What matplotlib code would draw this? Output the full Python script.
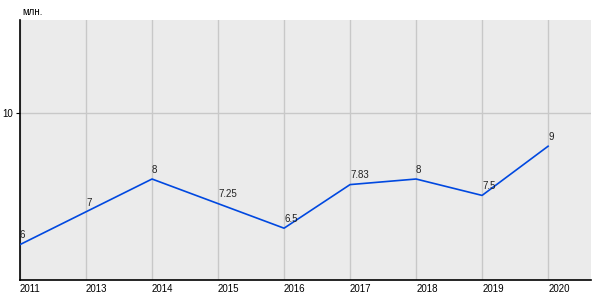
import matplotlib
matplotlib.use("Agg")
import matplotlib.pyplot as plt

years = ["2011", "2013", "2014", "2015", "2016", "2017", "2018", "2019", "2020"]
values = [6, 7, 8, 7.25, 6.5, 7.83, 8, 7.5, 9]
value_labels = ["6", "7", "8", "7.25", "6.5", "7.83", "8", "7.5", "9"]
y_ticks = [10]

plt.rcParams["font.family"] = ["Liberation Sans", "DejaVu Sans"]

fig = plt.figure(figsize=(6, 3), dpi=100)
ax = fig.add_axes([20 / 600, 20 / 300, 571 / 600, 260 / 300])
ax.set_facecolor("#ebebeb")

x = list(range(len(years)))
ax.plot(x, values, color="#0048e0", lw=1.2, zorder=3)
for xi, v, lab in zip(x, values, value_labels):
    ax.annotate(lab, (xi, v), xytext=(0, 3), textcoords="offset points",
                ha="left", va="bottom", fontsize=7, color="#222222")

ax.set_xlim(0, 8.65)
ax.set_ylim(4.92, 12.85)
ax.set_xticks(x)
ax.set_xticklabels(years, fontsize=7, ha="left")
ax.set_yticks(y_ticks)
ax.set_yticklabels([str(t) for t in y_ticks], fontsize=7)
ax.tick_params(axis="x", length=0, pad=3)
ax.tick_params(axis="y", length=3, pad=2)
ax.grid(True, color="#c8c8c8", lw=1)
ax.set_axisbelow(True)
for s in ["top", "right"]:
    ax.spines[s].set_visible(False)
ax.spines["left"].set_linewidth(1.2)
ax.spines["bottom"].set_linewidth(1.2)

# unit label above the y axis
fig.text(22 / 600, 1 - 12 / 300, "млн.", fontsize=7, ha="left", va="center")

fig.savefig("out.png", dpi=100)
